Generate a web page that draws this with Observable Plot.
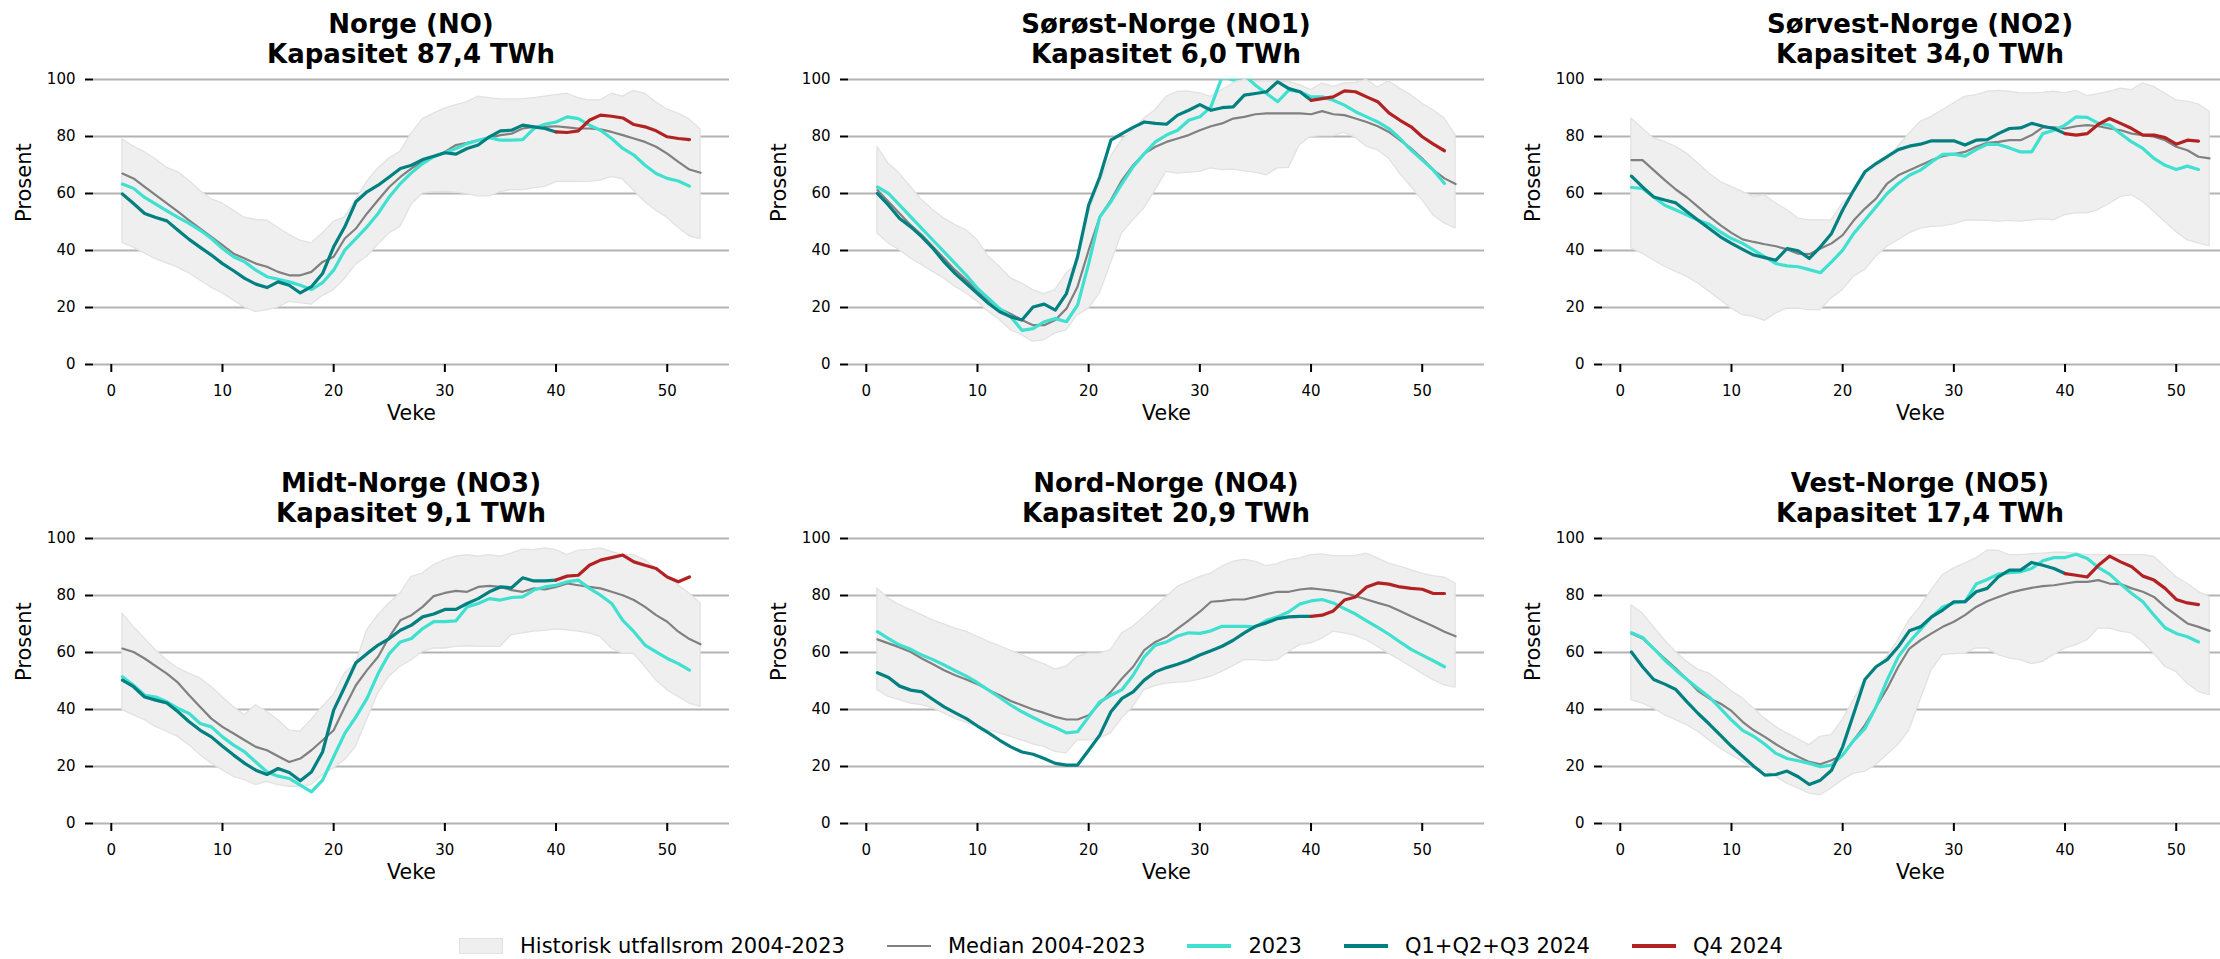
<!DOCTYPE html>
<html>
<head>
<meta charset="utf-8">
<script src="https://cdn.jsdelivr.net/npm/d3@7"></script>
<script src="https://cdn.jsdelivr.net/npm/@observablehq/plot@0.6"></script>
<style>
  html, body { margin: 0; padding: 0; background: #fff; }
  #root { position: relative; width: 2220px; height: 959px; overflow: hidden; background: #fff; font-family: "DejaVu Sans", sans-serif; }
  .panel { position: absolute; width: 739px; height: 440px; }
  .panel svg { display: block; }
  .title { position: absolute; width: 640px; text-align: center; font: bold 26px/30px "DejaVu Sans", sans-serif; color: #000; white-space: pre; }
  #legend { position: absolute; left: 459px; top: 930px; height: 32px; display: flex; align-items: center; font: 21px "DejaVu Sans", sans-serif; color: #000; white-space: nowrap; }
  #legend .item { display: flex; align-items: center; margin-right: 42px; }
  #legend .sw { width: 44px; margin-right: 17px; box-sizing: border-box; }
</style>
</head>
<body>
<div id="root"></div>
<script>
// ---------- labels ----------
const regionNames = ["Norge (NO)", "Sørøst-Norge (NO1)", "Sørvest-Norge (NO2)", "Midt-Norge (NO3)", "Nord-Norge (NO4)", "Vest-Norge (NO5)"];
const capacities = ["87,4", "6,0", "34,0", "9,1", "20,9", "17,4"];
const yTicks = [0, 20, 40, 60, 80, 100];
const xTicks = [0, 10, 20, 30, 40, 50];
const legendLabels = ["Historisk utfallsrom 2004-2023", "Median 2004-2023", "2023", "Q1+Q2+Q3 2024", "Q4 2024"];

// ---------- NO ----------
const upper_NO = [79,76.5,74.5,72,69,67.5,64.5,61,58,56.5,54,51.5,50.7,50.5,48,45.5,43.5,42.5,46,50,51.6,57.7,64.1,68.8,72.3,74.6,81,86,88,89.8,91,92,94,93.5,93,93,93,93.5,94,94.5,95,93.5,92.7,92.7,95,94,96,95,92,89.5,88,86,82.5];
const lower_NO = [42.7,41,39,37,35.5,34,32,29.5,27,25,22.5,20,18.5,19,20,22,21.5,21,24,26,30,35,37.8,42,46,48.3,56,60,60.5,60.6,60.3,59.8,59,59,60.5,61.2,61.2,61.8,62.3,64,64.2,64.1,64.1,64.5,65.8,65,61,57,54,51.5,48,45,44];
const median_NO = [67,65.3,62.3,59.4,56.5,53.6,50.6,47.7,44.8,41.9,38.9,37.2,35.4,34.3,32.5,31.3,31.3,32.5,36,37.8,44.2,47.7,53,57.7,62.3,65.8,68.8,71.1,72.9,74.6,77,77.8,78.7,79.5,80.5,81,82.8,83.4,83.4,83.6,83.2,82.8,82.8,82.5,81.6,80.5,79.3,78.1,76.4,74,71.1,68.4,67.3];
const y2023_NO = [63.3,61.8,58.6,56.3,53.9,51.6,49.5,47.1,44.2,40.7,37.8,36,33.1,30.8,29.9,29,27.8,26.3,28.7,33.1,40.1,44.2,48.3,53,58.8,63.5,67.3,70.5,72.9,74.3,75.8,77.5,78.7,79.6,78.7,78.7,78.9,82.8,84.3,85.1,86.9,86.3,84,82.2,79.3,75.8,73.5,69.9,67,65.3,64.4,62.6];
const q123_NO = [59.8,56.5,53,51.6,50.4,47.1,43.9,41.1,38.4,35.4,32.9,30.2,28.2,27,29,27.8,25.1,27.3,31.9,41.3,48.3,57.1,60.6,62.9,65.8,68.8,69.9,71.9,73.1,74.3,73.8,75.8,77,79.9,82,82.2,84,83.4,82.8,81.6];
const q4_NO = [81.6,81.4,82,85.7,87.5,87.1,86.5,84.2,83.4,82,79.9,79.3,78.9];

// ---------- NO1 ----------
const upper_NO1 = [76.4,70.5,67,62.3,57.7,54.2,51.2,48.9,47.1,43.6,37.8,34.3,30.2,28.4,26.1,24.7,26.1,31.9,35.4,53,63.5,72.9,78.7,82.2,86.3,89.2,93.9,95.7,95.7,95.1,93.9,96.3,98.6,99.8,99.2,99.4,99.2,99.2,98,96.3,98.6,97.4,98.6,98.8,99.8,97.2,99.4,96.8,94.5,91.6,89.2,86.3,80.5];
const lower_NO1 = [46,42.5,40.1,37.2,34.9,32.5,30.2,27.3,24.9,22,18.5,15.6,12,10.3,8,8.5,10.9,12,17.3,19.6,24.9,35.4,46,50.6,54.7,61.2,67.6,67,67.3,67.6,68.8,68.2,68.4,67.8,67.3,66.4,68.8,69,77,79.9,80.1,80.1,81.3,79.6,76.4,75.2,72.3,67,62.3,57.7,52.4,49.5,47.7];
const median_NO1 = [61.2,57.1,53,48.9,45.4,41.3,37.2,33.1,29.6,26.1,22.6,19.6,17.7,15.6,13.8,13.8,15.6,19.6,27.3,40.1,51.8,57.7,64.7,69.9,74,76.4,78.1,79.3,80.5,82.2,83.6,84.6,86.3,86.9,87.8,88.1,88.1,88.1,88.1,87.8,88.9,87.8,87.5,86.3,85.1,83.6,81.6,78.7,75.8,72.3,68.2,65.3,63.3];
const y2023_NO1 = [62.3,60,55.9,51.8,47.7,43.6,39.5,35.4,31.3,26.7,23.2,19.6,16.7,12,12.6,15,16.1,15,20.8,35.4,51.8,57.1,63.5,69.4,74,78.1,80.5,82.2,85.7,86.9,90.4,101,99.8,101.5,98,95.1,92.2,96.3,95.7,93.9,93.9,92.7,91,88.7,86.9,85.1,82.8,79.3,75.2,71.7,68.2,63.5];
const q123_NO1 = [60,55.9,51.2,48.3,44.8,40.7,36,31.9,28.4,24.9,21.4,18.5,16.7,15.6,20.2,21.2,19.1,24.9,37.8,55.9,65.8,78.7,81,83.2,85.1,84.6,84.3,87.5,89.2,91.2,89.2,90.1,90.4,94.5,95.1,95.7,99.2,96.8,95.7,92.7];
const q4_NO1 = [92.7,93.3,93.9,96,95.7,93.9,92.2,88.3,85.7,83.4,79.9,77.3,75];

// ---------- NO2 ----------
const upper_NO2 = [86.3,82.8,79.3,78.1,76.4,74,70.5,67,64.1,62.3,60.6,58.8,59.4,56.5,54.2,51.2,50.6,50.6,50.6,56.5,60,67,69.4,71.7,76.4,81,85.1,86.9,89.2,91.6,93.9,94.5,95.7,96,95.7,95.1,95.1,95.3,95.7,95.1,96,94.2,94.9,95.7,96.8,96.3,98.6,97.4,95.1,92.7,92.2,91.3,88.7];
const lower_NO2 = [40.7,38.9,36.6,34.3,32.5,30.8,28.4,25.5,22.6,19.6,17.3,16.7,15.3,17.9,19.6,19.6,19.1,19.1,23.2,26.1,30.8,33.1,37.8,41.3,43.6,46,47.7,48.3,48.5,49.2,50.4,50.6,50.4,50.1,50.4,50.1,50.6,50.9,50.6,52.4,53,53,54.2,56.3,58.8,59.4,57.1,53.6,50.1,46.5,43.6,42.5,41.5];
const median_NO2 = [71.7,71.7,68.2,64.7,61.4,58.6,55.3,52,48.9,46.2,43.9,43,42.2,41.5,40.4,38.9,38.7,40.7,42.5,45.4,50.6,54.7,58.2,63.5,66.4,68.2,69.9,71.7,73.1,73.8,74.6,76.4,77.8,78.1,78.7,78.7,80.5,83.2,83.2,82.8,83.6,84,83.6,82.8,82.2,81,80.5,79.9,78.7,76.4,75.2,72.9,72.3];
const y2023_NO2 = [62.1,61.8,58.8,55.9,54.2,52.4,50.6,49.2,46.5,44.2,42.5,40.1,37.8,35.4,34.6,34.3,33.3,32.2,36,40.1,46,50.6,55.3,60,63.5,66.4,68.2,71.1,73.7,73.8,73.1,75.4,77.3,77.2,76,74.6,74.6,81,82.2,84,86.9,86.7,84.6,84,81,78.1,75.8,72.3,69.9,68.4,69.6,68.4];
const q123_NO2 = [66.1,62.3,58.8,57.7,56.7,53.6,50.6,47.7,44.8,42.5,40.4,38.4,37.5,36.6,40.7,39.9,37.2,41.3,46,54.2,61.2,67.6,70.5,72.9,75.4,76.6,77.3,78.5,78.5,78.5,77,78.7,78.9,81,82.8,83,84.6,83.6,82.8,81];
const q4_NO2 = [81,80.5,81,84.3,86.3,84.6,82.8,80.5,80.5,79.6,77.3,78.7,78.4];

// ---------- NO3 ----------
const upper_NO3 = [73.7,69,64.9,60.8,57.3,54.4,52.6,50.9,48,44.4,40.9,38,41.5,39.2,36.3,32.7,32.2,36.3,40.9,45,52.6,56.1,67.8,73.1,77.2,80.7,86.5,87.7,90.6,92.4,93.6,94.2,93.6,94.2,93.6,94.7,96.1,95.9,96.5,95.9,94.2,95.7,95.9,96.5,95.3,94.2,94.2,92.4,89.5,86.5,83.6,80.7,77.2];
const lower_NO3 = [39.8,38,36.3,33.9,32.2,30.4,27.5,24,21.1,18.7,16.4,15.2,13.5,14.6,13.5,12.9,12.9,13.5,17,19.3,22.2,26.9,36.3,45.6,51.5,55,57.3,60.2,61.4,61.4,62,62.2,62,62,62,66.1,66.7,67.3,67.6,68.1,67.8,67.3,66.7,65.5,61.4,59.6,59.6,55,50.3,46.8,44.4,42.1,40.9];
const median_NO3 = [61.4,60.2,57.9,55.2,52.6,49.4,45,40.9,36.8,33.9,31.6,29.2,26.9,25.7,23.6,21.6,22.8,25.7,29.2,32.7,40.9,48.5,53.8,58.5,65.5,71.3,73.1,76,79.8,80.9,81.6,81.3,83,83.4,83,81.9,81.3,82.5,82.1,83,84.2,83.6,83,82.5,81.3,80.1,78.4,76,73.1,70.8,67.3,64.7,62.9];
const y2023_NO3 = [51.5,48.5,45,44.4,42.7,40.4,38.6,35.1,33.9,30.4,27.5,25.1,21.6,18.1,16.6,15.8,13.5,11.1,15.2,23.4,31.6,37.4,43.9,52.6,59.6,63.7,64.9,68.4,70.8,70.8,71.1,76,77.2,78.9,78.4,79.3,79.5,81.9,83,83.6,84.8,85.4,82.5,80.1,77.2,71.3,67.3,62.6,60.2,57.9,56.1,53.8];
const q123_NO3 = [50.3,48,44.4,43.3,42.3,39.2,35.7,32.7,30.4,27.1,24,21.1,18.7,17.2,19.3,17.9,15,18.1,25.1,39.8,48,56.4,59.6,62.6,64.9,67.8,69.6,72.5,73.5,75.1,75.1,77.2,78.9,81.3,83,82.7,86.2,85.1,85.1,85.4];
const q4_NO3 = [85.4,86.8,87.1,90.6,92.4,93.3,94.2,91.8,90.6,89.5,86.5,84.8,86.5];

// ---------- NO4 ----------
const upper_NO4 = [82.5,78.9,76.6,74.9,73.1,71.3,69.9,68.4,67.3,65.5,63.7,62.2,60.6,59.1,57.3,55.9,54,55,58.5,59.6,59.6,60.8,66.7,69,72.5,76,79.5,83,84.8,86.5,87.7,90.1,91.8,92.6,91.8,90.3,91,92.4,93,94.2,94.4,93.8,93.8,93.9,94.7,93,91.2,90.1,88.9,87.7,86.8,86.3,84.2];
const lower_NO4 = [46.8,44.4,43.3,42.1,41.5,40.4,38.6,36.8,35.3,33.9,32.7,31.6,30.4,29.2,27.8,26.9,25.1,24.6,29.2,29.2,29.8,31.6,36.8,40.9,46.8,48.2,49.1,49.4,49.7,50.5,51.5,53.2,55.2,57.3,57.3,57,57.3,60.2,62.6,63.2,64.9,67.3,66.7,65.8,64.3,62,59.6,57.3,55,52.6,50.3,48.5,47.7];
const median_NO4 = [64.6,63.2,61.8,60.2,57.9,55.9,53.8,52,50.5,48.9,46.8,45,43,41.5,40,38.8,37.4,36.5,36.5,38,42.1,46.2,50.9,55,60.8,63.7,65.5,68.4,71.3,74.3,77.8,78.1,78.6,78.6,79.5,80.5,81.3,81.3,82.1,82.5,82.1,81.6,80.9,79.8,78.6,77.4,76.3,74.6,72.7,71,69.2,67.3,65.7];
const y2023_NO4 = [67.3,64.9,62.6,61.1,59.1,57.5,55.6,53.6,51.7,49.4,46.8,44.2,41.5,39.2,37.2,35.3,33.7,31.8,32.2,37.4,42.7,45,47,52,58.5,62.6,63.7,65.8,66.9,66.7,67.6,69.2,69.2,69.2,69,71.3,72.5,74.3,77,78.1,78.6,77.4,75.4,73.5,71.1,68.8,66.4,63.7,61.1,59.1,57.1,55];
const q123_NO4 = [52.9,51.2,48.2,46.8,46.2,43.5,40.9,38.8,36.8,34.2,31.8,29.2,26.9,25.1,24.3,22.8,21.1,20.5,20.5,25.7,31,39.2,43.9,46.2,50.3,53.2,54.7,55.9,57.3,59.1,60.6,62.2,64.3,66.9,69.2,70.4,71.9,72.5,72.7,72.7];
const q4_NO4 = [72.7,73.1,74.6,78.4,79.5,83,84.4,84,83,82.5,82.2,80.7,80.7];

// ---------- NO5 ----------
const upper_NO5 = [76.6,73.7,69,64.3,60.2,56.7,54,52.6,49.7,46.5,43.9,40.4,36.8,33.9,31.6,29.5,27.5,30.4,31,36.3,43.3,50.3,53.8,58.5,64.3,71.3,76,81.9,87.1,89.5,91.2,93,95.7,95.7,94.2,94.2,94.5,94.7,95,95,94.7,94.2,94.2,94.2,94.2,94.2,94.2,93.6,90.1,86.5,84.2,81.3,79.5];
const lower_NO5 = [43.3,42.1,40.4,38,36.3,34.5,32.2,29.2,26.3,24,21.6,19.3,18.7,16.4,14,12.3,10.5,9.9,12.3,15.2,17.5,18.1,20.5,24,27.5,32.7,43.3,53.8,59.1,59.4,59.6,61.4,61.4,59.1,57.9,57.3,55.9,56.7,59.1,61.4,62.6,64.3,68.4,68.4,67.3,66.7,63.7,59.6,55,53.2,49.1,46.2,45];
const median_NO5 = [66.7,64.9,61.4,57.9,54.4,50.5,46.5,43.9,42.1,39.5,35.7,32.7,30.4,27.8,25.5,23.4,21.6,20.8,22.2,24,29.2,34.5,40.9,47.4,55,61.4,64.3,66.7,69,70.8,73.1,76,78,79.5,80.9,81.9,82.7,83.3,83.6,84.2,84.8,84.8,85.4,84.2,84,82.5,81.3,79.5,76,73.1,70.2,69,67.6];
const y2023_NO5 = [66.9,65.3,61.4,57.3,53.8,50.5,47.4,44.4,40.4,36.3,32.7,30.6,27.8,24.6,22.8,22,21.1,19.9,20.5,24,29.2,33.3,40.9,50.3,58.5,63.7,68.1,72.5,76,77.4,77.8,84,85.6,87.5,88,88.3,89.5,92.2,93.3,93.3,94.5,93,89.8,87.5,84,80.7,77.8,73.1,68.7,66.7,65.5,63.7];
const q123_NO5 = [60.2,55,50.5,48.9,47,42.7,38.6,34.9,31,27.1,23.6,20.1,17,17.2,18.4,16.4,13.7,15.2,18.7,26.9,38.6,50.5,55,57.5,62,67.6,69,72.5,74.9,77.8,77.8,81.3,82.5,86.5,88.9,88.9,91.6,90.6,89.5,87.7];
const q4_NO5 = [87.7,87.1,86.5,90.6,93.8,91.8,90.1,86.8,85.4,82.5,78.6,77.4,76.8];

const uppers = [upper_NO, upper_NO1, upper_NO2, upper_NO3, upper_NO4, upper_NO5];
const lowers = [lower_NO, lower_NO1, lower_NO2, lower_NO3, lower_NO4, lower_NO5];
const medians = [median_NO, median_NO1, median_NO2, median_NO3, median_NO4, median_NO5];
const y2023s = [y2023_NO, y2023_NO1, y2023_NO2, y2023_NO3, y2023_NO4, y2023_NO5];
const q123s = [q123_NO, q123_NO1, q123_NO2, q123_NO3, q123_NO4, q123_NO5];
const q4s = [q4_NO, q4_NO1, q4_NO2, q4_NO3, q4_NO4, q4_NO5];

// ---------- style ----------
const C = { band: "#efefef", bandEdge: "#e2e2e2", median: "#808080", y2023: "#40E0D0", q123: "#008080", q4: "#B22222", grid: "#b3b3b3" };

const frameLefts = [93, 848, 1602];
const frameTops = [79, 538];
const FW = 636, ML = 93, MT = 79, W = 739, H = 440;

const root = document.getElementById("root");

function series(arr, start) { return arr.map((v, j) => ({ w: start + j, v })); }

for (let i = 0; i < 6; i++) {
  const col = i % 3, row = Math.floor(i / 3);
  const band = uppers[i].map((hi, j) => ({ w: j + 1, hi, lo: lowers[i][j] }));
  const chart = Plot.plot({
    width: W, height: H,
    marginLeft: ML, marginRight: W - ML - FW, marginTop: MT, marginBottom: H - MT - 285,
    style: { fontFamily: "DejaVu Sans, sans-serif", fontSize: "15px", color: "#000", background: "transparent", overflow: "visible" },
    x: { domain: [-1.6, 55.6] },
    y: { domain: [0, 100] },
    marks: [
      Plot.ruleY(yTicks, { stroke: C.grid, strokeWidth: 2 }),
      Plot.area(band, { x1: "w", y1: "lo", y2: "hi", fill: C.band, stroke: C.bandEdge, strokeWidth: 1.3 }),
      Plot.line(series(medians[i], 1), { x: "w", y: "v", stroke: C.median, strokeWidth: 2.2, clip: true }),
      Plot.line(series(y2023s[i], 1), { x: "w", y: "v", stroke: C.y2023, strokeWidth: 3.2, clip: true }),
      Plot.line(series(q123s[i], 1), { x: "w", y: "v", stroke: C.q123, strokeWidth: 3.2, clip: true }),
      Plot.line(series(q4s[i], 40), { x: "w", y: "v", stroke: C.q4, strokeWidth: 3.2, clip: true }),
      Plot.axisY({ ticks: yTicks, tickSize: 8, tickPadding: 10, strokeWidth: 2, stroke: "#000", label: null, fontSize: 15 }),
      Plot.axisX({ ticks: xTicks, tickSize: 8, tickPadding: 13, strokeWidth: 2, stroke: "#000", label: null, fontSize: 15 }),
      Plot.text(["Prosent"], { text: d => d, frameAnchor: "left", dx: -69, rotate: -90, fontSize: 21 }),
      Plot.text(["Veke"], { text: d => d, frameAnchor: "bottom", dy: 55, fontSize: 20.5 })
    ]
  });
  const wrap = document.createElement("div");
  wrap.className = "panel";
  wrap.style.left = (frameLefts[col] - ML) + "px";
  wrap.style.top = (frameTops[row] - MT) + "px";
  wrap.appendChild(chart);
  root.appendChild(wrap);

  const t = document.createElement("div");
  t.className = "title";
  t.style.left = (frameLefts[col] + FW / 2 - 320) + "px";
  t.style.top = (frameTops[row] - 70) + "px";
  t.textContent = regionNames[i] + "\nKapasitet " + capacities[i] + " TWh";
  root.appendChild(t);
}

// ---------- legend ----------
const legend = document.createElement("div");
legend.id = "legend";
const swatches = [
  s => { s.style.height = "16px"; s.style.background = C.band; s.style.border = "1px solid " + C.bandEdge; },
  s => { s.style.height = "2.5px"; s.style.background = C.median; },
  s => { s.style.height = "3.5px"; s.style.background = C.y2023; },
  s => { s.style.height = "3.5px"; s.style.background = C.q123; },
  s => { s.style.height = "3.5px"; s.style.background = C.q4; }
];
legendLabels.forEach((lab, k) => {
  const it = document.createElement("span"); it.className = "item";
  const sw = document.createElement("span"); sw.className = "sw"; swatches[k](sw);
  const tx = document.createElement("span"); tx.textContent = lab;
  it.appendChild(sw); it.appendChild(tx);
  legend.appendChild(it);
});
root.appendChild(legend);
</script>
</body>
</html>
